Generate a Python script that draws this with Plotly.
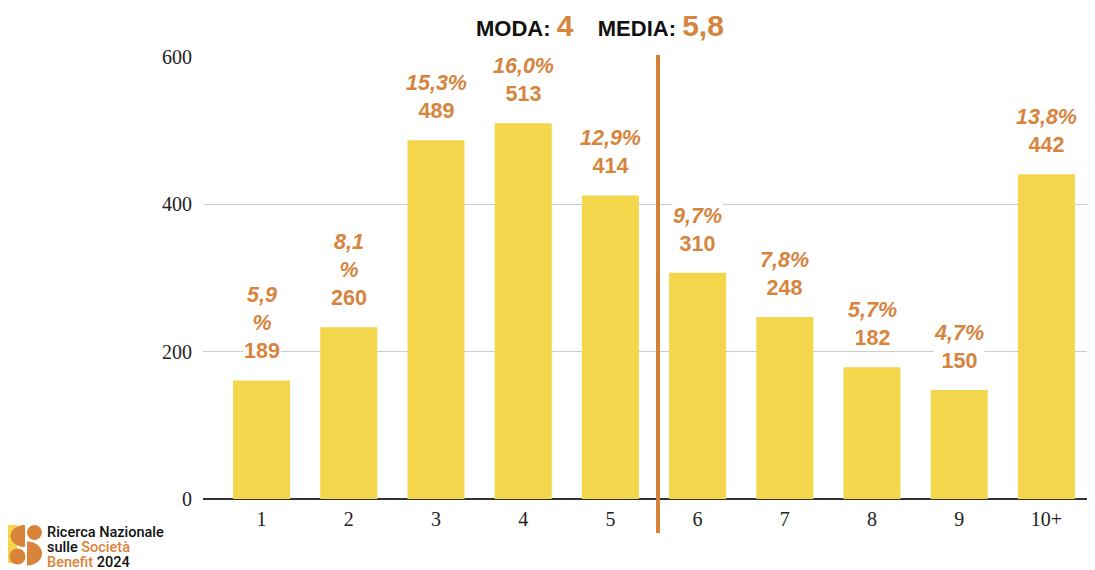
import numpy as np
import plotly.graph_objects as go

# ---- data ----
categories = ["1", "2", "3", "4", "5", "6", "7", "8", "9", "10+"]
bar_values = [161, 233, 487, 510, 412, 307, 247, 179, 148, 441]
count_labels = [189, 260, 489, 513, 414, 310, 248, 182, 150, 442]
percent_labels = ["5,9%", "8,1%", "15,3%", "16,0%", "12,9%", "9,7%", "7,8%", "5,7%", "4,7%", "13,8%"]
y_tick_values = [0, 200, 400, 600]
moda_value = "4"
media_value = "5,8"
logo_lines = ["Ricerca Nazionale", "sulle <span style='color:#D9843A'>Società</span>",
              "<span style='color:#D9843A'>Benefit</span> 2024"]

# ---- style ----
OFF = 8  # page body margin
W, H = 1095 - OFF, 570 - OFF
PL = 203 - OFF
PBOT = 499 - OFF
PT = 57 - OFF
PR = W - (1090 - OFF)
PB_M = H - PBOT
PW = W - PL - PR
PH = H - PT - PB_M
ORANGE = "#D6843E"
YELLOW = "#F4D64C"


def pxp(x):
    """reference-screenshot x pixel -> paper"""
    return (x - OFF - PL) / PW


def pyp(y):
    """reference-screenshot y pixel -> paper"""
    return (PBOT - (y - OFF)) / PH


fig = go.Figure()
fig.add_trace(go.Bar(
    x=categories, y=bar_values, marker=dict(color=YELLOW, line=dict(width=0)),
    width=0.654, hoverinfo="skip", cliponaxis=False,
))

# bar labels
for i, (v, n, p) in enumerate(zip(bar_values, count_labels, percent_labels)):
    ptxt = p
    if i < 2:
        ptxt = p[:-1] + "<br>%"
    fig.add_annotation(
        x=i, y=v, xref="x", yref="y", yanchor="bottom", yshift=16,
        text=f"<b><i>{ptxt}</i></b><br><b>{n}</b>", showarrow=False,
        font=dict(family="Liberation Sans, Arial", size=21.5, color=ORANGE),
        bgcolor="white", borderpad=0, align="center",
    )

# vertical divider line
fig.add_shape(type="line", xref="x", yref="paper", x0=4.546, x1=4.546,
              y0=pyp(533), y1=pyp(55), line=dict(color="#D5813A", width=4))

# title
fig.add_annotation(
    xref="paper", yref="paper", x=pxp(600), y=pyp(25), xanchor="center", yanchor="middle",
    showarrow=False,
    text=(f"<b>MODA: </b><span style='font-size:30px;color:{ORANGE}'><b>{moda_value}</b></span>"
          f"&nbsp;&nbsp;&nbsp;&nbsp;<b>MEDIA: </b>"
          f"<span style='font-size:30px;color:{ORANGE}'><b>{media_value}</b></span>"),
    font=dict(family="Liberation Sans, Arial", size=22, color="#111111"),
)

# logo text
for txt, yy in zip(logo_lines, [532, 547, 562]):
    fig.add_annotation(
        xref="paper", yref="paper", x=pxp(45), y=pyp(yy), xanchor="left", yanchor="middle",
        showarrow=False, text=txt,
        font=dict(family="Roboto", size=14.5, color="#111111", weight=500),
    )

# logo icon
LOGO_OR = "#D9843A"
LOGO_YE = "#F5D547"
fig.add_shape(type="rect", xref="paper", yref="paper", x0=pxp(8), x1=pxp(17), y0=pyp(563), y1=pyp(525),
              fillcolor=LOGO_YE, line=dict(width=0), layer="above")


def circle(cx, cy, r, col):
    fig.add_shape(type="circle", xref="paper", yref="paper", x0=pxp(cx - r), x1=pxp(cx + r),
                  y0=pyp(cy + r), y1=pyp(cy - r), fillcolor=col, line=dict(width=0), layer="above")


def half_disc(cx, cy, rx, ry, side, col):
    t = np.linspace(-np.pi / 2, np.pi / 2, 30)
    sgn = -1 if side == "left" else 1
    pts = [(cx + sgn * rx * np.cos(a), cy + ry * np.sin(a)) for a in t]
    path = "M " + " L ".join(f"{pxp(x):.5f},{pyp(y):.5f}" for x, y in pts) + " Z"
    fig.add_shape(type="path", xref="paper", yref="paper", path=path, fillcolor=col,
                  line=dict(width=0), layer="above")


half_disc(25, 536, 14.5, 11, "left", LOGO_OR)
circle(17.5, 556.5, 8, LOGO_OR)
circle(34.5, 532.5, 7.5, LOGO_OR)
half_disc(27, 553.5, 15, 12, "right", LOGO_OR)

fig.update_layout(
    width=W, height=H, margin=dict(l=PL, r=PR, t=PT, b=PB_M),
    paper_bgcolor="white", plot_bgcolor="white", showlegend=False, bargap=0.3,
    xaxis=dict(
        type="category", range=[-0.672, 9.5], showgrid=False, ticks="", showline=False,
        zeroline=False, tickfont=dict(family="Liberation Serif", size=20, color="#222222"),
        ticklabelstandoff=6, fixedrange=True,
    ),
    yaxis=dict(
        range=[0, 600], tickvals=y_tick_values, showgrid=True, gridcolor="#CCCCCC", gridwidth=1,
        zeroline=True, zerolinecolor="#333333", zerolinewidth=1.5, ticks="", showline=False,
        tickfont=dict(family="Liberation Serif", size=20, color="#222222"),
        ticklabelstandoff=10, fixedrange=True,
    ),
)

fig.write_html("out.html")
